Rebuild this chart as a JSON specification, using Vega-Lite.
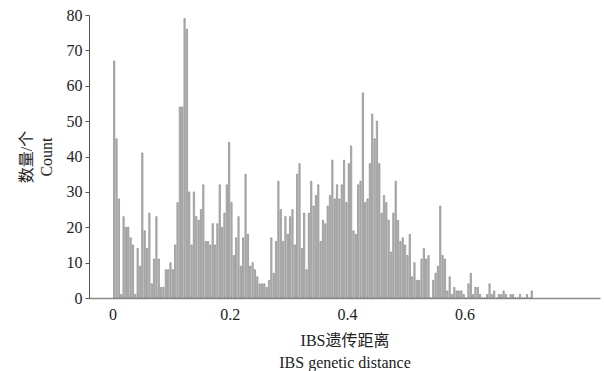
{
  "$schema": "https://vega.github.io/schema/vega-lite/v6.json",
  "width": 511,
  "height": 283,
  "autosize": "none",
  "padding": {"left": 89, "top": 15, "right": 4, "bottom": 73},
  "background": "white",
  "config": {
    "view": {"stroke": null},
    "axis": {
      "labelFont": "Liberation Serif",
      "titleFont": "Liberation Serif, Noto Sans CJK SC",
      "labelFontSize": 16,
      "titleFontSize": 16,
      "titleFontWeight": "normal",
      "labelColor": "#222222",
      "titleColor": "#222222",
      "grid": false
    }
  },
  "data": {"values": [
    {"start":0,"end":0.004,"count":67},{"start":0.004,"end":0.008,"count":45},{"start":0.008,"end":0.012,"count":28},{"start":0.012,"end":0.016,"count":1},
    {"start":0.016,"end":0.02,"count":23},{"start":0.02,"end":0.024,"count":20},{"start":0.024,"end":0.028,"count":20},{"start":0.028,"end":0.032,"count":17},
    {"start":0.032,"end":0.036,"count":15},{"start":0.036,"end":0.04,"count":1},{"start":0.04,"end":0.044,"count":14},{"start":0.044,"end":0.048,"count":9},
    {"start":0.048,"end":0.052,"count":41},{"start":0.052,"end":0.056,"count":19},{"start":0.056,"end":0.06,"count":14},{"start":0.06,"end":0.064,"count":24},
    {"start":0.064,"end":0.068,"count":4},{"start":0.068,"end":0.072,"count":11},{"start":0.072,"end":0.076,"count":23},{"start":0.076,"end":0.08,"count":11},
    {"start":0.08,"end":0.084,"count":3},{"start":0.084,"end":0.088,"count":3},{"start":0.088,"end":0.092,"count":8},{"start":0.092,"end":0.096,"count":8},
    {"start":0.096,"end":0.1,"count":10},{"start":0.1,"end":0.104,"count":8},{"start":0.104,"end":0.108,"count":15},{"start":0.108,"end":0.112,"count":27},
    {"start":0.112,"end":0.116,"count":54},{"start":0.116,"end":0.12,"count":54},{"start":0.12,"end":0.124,"count":79},{"start":0.124,"end":0.128,"count":76},
    {"start":0.128,"end":0.132,"count":30},{"start":0.132,"end":0.136,"count":15},{"start":0.136,"end":0.14,"count":30},{"start":0.14,"end":0.144,"count":23},
    {"start":0.144,"end":0.148,"count":22},{"start":0.148,"end":0.152,"count":25},{"start":0.152,"end":0.156,"count":32},{"start":0.156,"end":0.16,"count":16},
    {"start":0.16,"end":0.164,"count":16},{"start":0.164,"end":0.168,"count":15},{"start":0.168,"end":0.172,"count":21},{"start":0.172,"end":0.176,"count":15},
    {"start":0.176,"end":0.18,"count":21},{"start":0.18,"end":0.184,"count":32},{"start":0.184,"end":0.188,"count":20},{"start":0.188,"end":0.192,"count":24},
    {"start":0.192,"end":0.196,"count":32},{"start":0.196,"end":0.2,"count":44},{"start":0.2,"end":0.204,"count":27},{"start":0.204,"end":0.208,"count":12},
    {"start":0.208,"end":0.212,"count":17},{"start":0.212,"end":0.216,"count":23},{"start":0.216,"end":0.22,"count":9},{"start":0.22,"end":0.224,"count":17},
    {"start":0.224,"end":0.228,"count":35},{"start":0.228,"end":0.232,"count":18},{"start":0.232,"end":0.236,"count":9},{"start":0.236,"end":0.24,"count":10},
    {"start":0.24,"end":0.244,"count":8},{"start":0.244,"end":0.248,"count":6},{"start":0.248,"end":0.252,"count":4},{"start":0.252,"end":0.256,"count":4},
    {"start":0.256,"end":0.26,"count":4},{"start":0.26,"end":0.264,"count":3},{"start":0.264,"end":0.268,"count":5},{"start":0.268,"end":0.272,"count":17},
    {"start":0.272,"end":0.276,"count":7},{"start":0.276,"end":0.28,"count":16},{"start":0.28,"end":0.284,"count":33},{"start":0.284,"end":0.288,"count":25},
    {"start":0.288,"end":0.292,"count":16},{"start":0.292,"end":0.296,"count":23},{"start":0.296,"end":0.3,"count":18},{"start":0.3,"end":0.304,"count":23},
    {"start":0.304,"end":0.308,"count":25},{"start":0.308,"end":0.312,"count":15},{"start":0.312,"end":0.316,"count":35},{"start":0.316,"end":0.32,"count":38},
    {"start":0.32,"end":0.324,"count":14},{"start":0.324,"end":0.328,"count":24},{"start":0.328,"end":0.332,"count":8},{"start":0.332,"end":0.336,"count":24},
    {"start":0.336,"end":0.34,"count":33},{"start":0.34,"end":0.344,"count":26},{"start":0.344,"end":0.348,"count":29},{"start":0.348,"end":0.352,"count":32},
    {"start":0.352,"end":0.356,"count":16},{"start":0.356,"end":0.36,"count":22},{"start":0.36,"end":0.364,"count":21},{"start":0.364,"end":0.368,"count":26},
    {"start":0.368,"end":0.372,"count":29},{"start":0.372,"end":0.376,"count":39},{"start":0.376,"end":0.38,"count":28},{"start":0.38,"end":0.384,"count":32},
    {"start":0.384,"end":0.388,"count":28},{"start":0.388,"end":0.392,"count":32},{"start":0.392,"end":0.396,"count":39},{"start":0.396,"end":0.4,"count":27},
    {"start":0.4,"end":0.404,"count":38},{"start":0.404,"end":0.408,"count":43},{"start":0.408,"end":0.412,"count":19},{"start":0.412,"end":0.416,"count":18},
    {"start":0.416,"end":0.42,"count":32},{"start":0.42,"end":0.424,"count":33},{"start":0.424,"end":0.428,"count":58},{"start":0.428,"end":0.432,"count":27},
    {"start":0.432,"end":0.436,"count":28},{"start":0.436,"end":0.44,"count":38},{"start":0.44,"end":0.444,"count":52},{"start":0.444,"end":0.448,"count":45},
    {"start":0.448,"end":0.452,"count":50},{"start":0.452,"end":0.456,"count":38},{"start":0.456,"end":0.46,"count":24},{"start":0.46,"end":0.464,"count":29},
    {"start":0.464,"end":0.468,"count":27},{"start":0.468,"end":0.472,"count":22},{"start":0.472,"end":0.476,"count":13},{"start":0.476,"end":0.48,"count":24},
    {"start":0.48,"end":0.484,"count":33},{"start":0.484,"end":0.488,"count":22},{"start":0.488,"end":0.492,"count":16},{"start":0.492,"end":0.496,"count":17},
    {"start":0.496,"end":0.5,"count":15},{"start":0.5,"end":0.504,"count":12},{"start":0.504,"end":0.508,"count":18},{"start":0.508,"end":0.512,"count":6},
    {"start":0.512,"end":0.516,"count":10},{"start":0.516,"end":0.52,"count":5},{"start":0.52,"end":0.524,"count":5},{"start":0.524,"end":0.528,"count":11},
    {"start":0.528,"end":0.532,"count":14},{"start":0.532,"end":0.536,"count":11},{"start":0.536,"end":0.54,"count":12},{"start":0.54,"end":0.544,"count":0},
    {"start":0.544,"end":0.548,"count":5},{"start":0.548,"end":0.552,"count":7},{"start":0.552,"end":0.556,"count":9},{"start":0.556,"end":0.56,"count":26},
    {"start":0.56,"end":0.564,"count":12},{"start":0.564,"end":0.568,"count":11},{"start":0.568,"end":0.572,"count":2},{"start":0.572,"end":0.576,"count":6},
    {"start":0.576,"end":0.58,"count":1},{"start":0.58,"end":0.584,"count":3},{"start":0.584,"end":0.588,"count":2},{"start":0.588,"end":0.592,"count":2},
    {"start":0.592,"end":0.596,"count":2},{"start":0.596,"end":0.6,"count":1},{"start":0.6,"end":0.604,"count":0},{"start":0.604,"end":0.608,"count":4},
    {"start":0.608,"end":0.612,"count":7},{"start":0.612,"end":0.616,"count":1},{"start":0.616,"end":0.62,"count":3},{"start":0.62,"end":0.624,"count":3},
    {"start":0.624,"end":0.628,"count":1},{"start":0.628,"end":0.632,"count":0},{"start":0.632,"end":0.636,"count":0},{"start":0.636,"end":0.64,"count":1},
    {"start":0.64,"end":0.644,"count":4},{"start":0.644,"end":0.648,"count":1},{"start":0.648,"end":0.652,"count":2},{"start":0.652,"end":0.656,"count":0},
    {"start":0.656,"end":0.66,"count":1},{"start":0.66,"end":0.664,"count":1},{"start":0.664,"end":0.668,"count":2},{"start":0.668,"end":0.672,"count":1},
    {"start":0.672,"end":0.676,"count":0},{"start":0.676,"end":0.68,"count":1},{"start":0.68,"end":0.684,"count":1},{"start":0.684,"end":0.688,"count":0},
    {"start":0.688,"end":0.692,"count":0},{"start":0.692,"end":0.696,"count":1},{"start":0.696,"end":0.7,"count":0},{"start":0.7,"end":0.704,"count":0},
    {"start":0.704,"end":0.708,"count":1},{"start":0.708,"end":0.712,"count":0},{"start":0.712,"end":0.716,"count":2}
  ]},
  "mark": {"type": "bar", "fill": "#c4c4c4", "stroke": "#5a5a5a", "strokeWidth": 0.45},
  "encoding": {
    "x": {
      "field": "start", "bin": "binned", "type": "quantitative",
      "scale": {"domain": [-0.0401, 0.8312], "nice": false, "zero": false},
      "axis": {
        "title": ["IBS遗传距离", "IBS genetic distance"],
        "values": [0, 0.2, 0.4, 0.6],
        "format": ".1~f",
        "ticks": false,
        "labelPadding": 8,
        "titlePadding": 10,
        "titleLineHeight": 22,
        "domainColor": "#8c8c8c",
        "domainWidth": 1.5,
        "labelFlush": false
      }
    },
    "x2": {"field": "end"},
    "y": {
      "field": "count", "type": "quantitative",
      "scale": {"domain": [0, 80], "nice": false},
      "axis": {
        "title": ["数量/个", "Count"],
        "values": [0, 10, 20, 30, 40, 50, 60, 70, 80],
        "tickSize": 4,
        "tickColor": "#555555",
        "domainColor": "#555555",
        "labelPadding": 3,
        "titlePadding": 12,
        "titleLineHeight": 20,
        "labelFlush": false
      }
    }
  }
}
